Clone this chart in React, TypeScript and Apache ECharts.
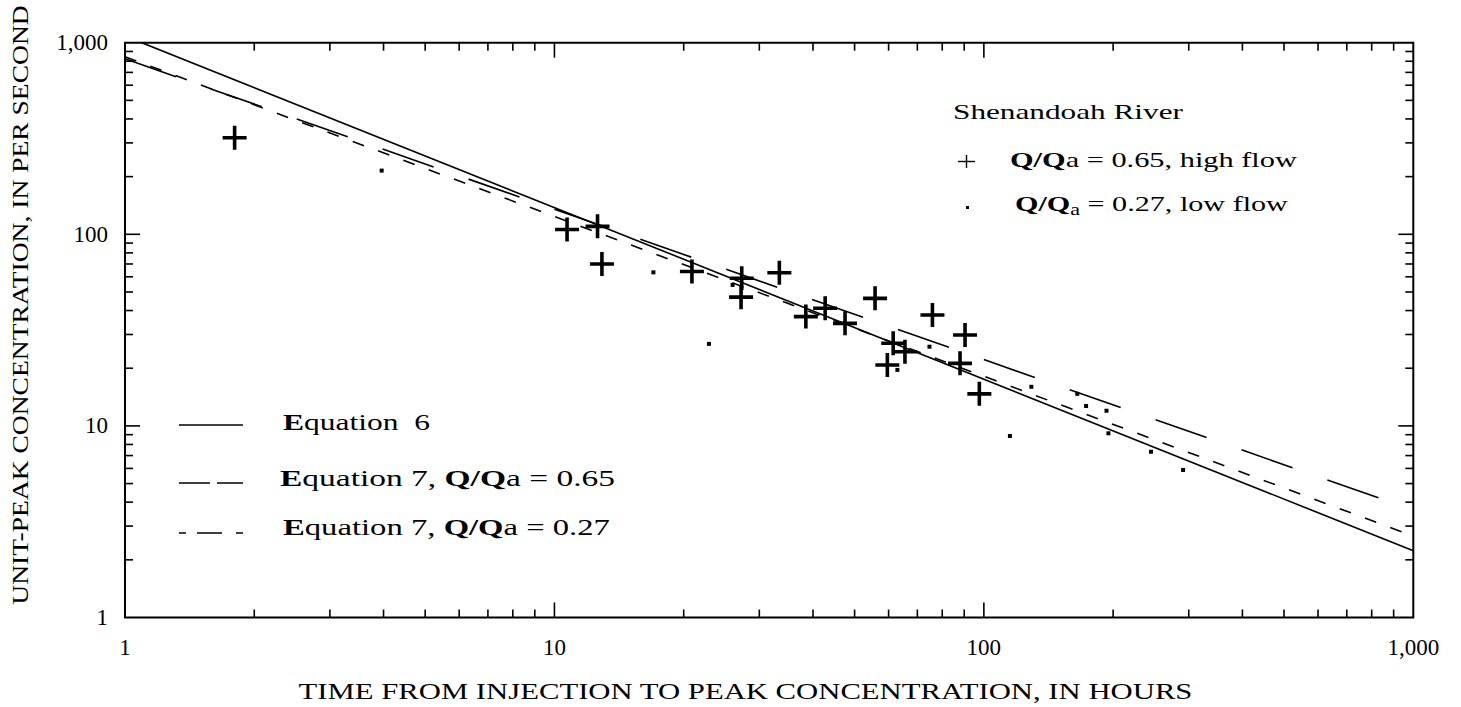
import React, { useEffect, useRef } from 'react';
import * as echarts from 'echarts';

// ---- data ----
const axisTicks = [1, 10, 100, 1000];

const highFlowT = [1.8, 10.7, 12.6, 12.9, 20.9, 27.3, 27.2, 33.4, 38.5, 42.7, 47.5, 55.8, 75.9, 90.4, 61.5, 65.5, 59.6, 88.0, 97.6];
const highFlowC = [319, 106, 110, 70, 64, 59, 47, 63, 37.2, 41.1, 34.3, 46.3, 37.9, 29.8, 27.0, 24.4, 20.8, 21.2, 14.7];

const lowFlowT = [3.96, 17.0, 22.9, 26.0, 74.7, 62.9, 115, 129, 165, 173, 193, 195, 245, 291];
const lowFlowC = [215, 63.3, 26.8, 54.4, 25.9, 19.6, 8.86, 16.0, 14.7, 12.7, 12.0, 9.15, 7.33, 5.89];

const eq6T = [1.094, 1000];
const eq6C = [1000, 2.23];
const eq7HighT = [1, 1000];
const eq7HighC = [824, 3.64];
const eq7LowT = [1, 1000];
const eq7LowC = [845, 2.66];

const FONT = '"Liberation Serif", "Times New Roman", serif';
const PLUS = 'path://M10.2,0H13.8V10.2H24V13.8H13.8V24H10.2V13.8H0V10.2H10.2Z';

const zip = (a: number[], b: number[]) => a.map((v, i) => [v, b[i]]);

type Seg = { t: string; bold?: boolean; size?: number; dy?: number };

export default function App() {
  const ref = useRef<HTMLDivElement>(null);

  useEffect(() => {
    document.body.style.margin = '0';
    const chart = echarts.init(ref.current!, null, { renderer: 'svg' });
    const fmt = (v: number) => {
      const r = Math.round(v);
      return axisTicks.includes(r) ? r.toLocaleString('en-US') : '';
    };

    chart.setOption({
      animation: false,
      backgroundColor: '#fff',
      grid: { left: 125, right: 47.7, top: 42.7, bottom: 89.5, show: true, borderColor: '#000', borderWidth: 2, backgroundColor: 'transparent' },
      xAxis: {
        type: 'log', logBase: 10, min: 1, max: 1000,
        axisLine: { show: false }, axisTick: { show: false }, splitLine: { show: false },
        axisLabel: { formatter: fmt, fontFamily: FONT, fontSize: 23, color: '#000', margin: 18 },
      },
      yAxis: {
        type: 'log', logBase: 10, min: 1, max: 1000,
        axisLine: { show: false }, axisTick: { show: false }, splitLine: { show: false },
        axisLabel: { formatter: fmt, fontFamily: FONT, fontSize: 23, color: '#000', margin: 17 },
      },
      series: [
        { name: 'Equation 6', type: 'line', data: zip(eq6T, eq6C), symbol: 'none', lineStyle: { color: '#000', width: 1.6 }, z: 2 },
        { name: 'Equation 7, Q/Qa = 0.65', type: 'line', data: zip(eq7HighT, eq7HighC), symbol: 'none', lineStyle: { color: '#000', width: 1.6, type: [54, 37] }, z: 2 },
        { name: 'Equation 7, Q/Qa = 0.27', type: 'line', data: zip(eq7LowT, eq7LowC), symbol: 'none', lineStyle: { color: '#000', width: 1.6, type: [12, 15] }, z: 2 },
        { name: 'Q/Qa = 0.65, high flow', type: 'scatter', data: zip(highFlowT, highFlowC), symbol: PLUS, symbolSize: 24, itemStyle: { color: '#000', opacity: 1 }, z: 3 },
        { name: 'Q/Qa = 0.27, low flow', type: 'scatter', data: zip(lowFlowT, lowFlowC), symbol: 'rect', symbolSize: 4, itemStyle: { color: '#000', opacity: 1 }, z: 3 },
      ],
    });

    const canvas = document.createElement('canvas');
    const ctx = canvas.getContext('2d')!;
    const fontStr = (size: number, bold?: boolean) => `${bold ? 'bold ' : ''}${size}px ${FONT}`;
    const measure = (t: string, size: number, bold?: boolean) => {
      ctx.font = fontStr(size, bold);
      return ctx.measureText(t).width;
    };

    const g: any[] = [];
    const P = (x: number, y: number) => chart.convertToPixel({ gridIndex: 0 }, [x, y]) as number[];
    const tick = (x1: number, y1: number, x2: number, y2: number) =>
      g.push({ type: 'line', silent: true, z: 10, shape: { x1, y1, x2, y2 }, style: { stroke: '#000', lineWidth: 1.6 } });

    for (const d of [1, 10, 100]) {
      for (let m = 1; m <= 9; m++) {
        const v = m * d;
        if (v === 1) continue;
        const len = m === 1 ? 15 : 8;
        const [x, yb] = P(v, 1);
        const yt = P(v, 1000)[1];
        tick(x, yb, x, yb - len);
        tick(x, yt, x, yt + len);
        const [xl, y] = P(1, v);
        const xr = P(1000, v)[0];
        tick(xl, y, xl + len, y);
        tick(xr, y, xr - len, y);
      }
    }

    const row = (segs: Seg[], left: number, right: number, cy: number, size: number) => {
      const widths = segs.map((s) => measure(s.t, s.size ?? size, s.bold));
      const scale = (right - left) / widths.reduce((a, b) => a + b, 0);
      let x = left;
      segs.forEach((s, i) => {
        const trimmed = s.t.replace(/^\s+/, '');
        const lead = s.t.length - trimmed.length;
        const leadW = lead ? measure(' '.repeat(lead), s.size ?? size, s.bold) * scale : 0;
        g.push({
          type: 'text', silent: true, z: 10, x: x + leadW, y: cy + (s.dy ?? 0), scaleX: scale,
          style: {
            text: trimmed, fill: '#000', font: fontStr(s.size ?? size, s.bold),
            textAlign: 'left', textVerticalAlign: 'middle',
          },
        });
        x += widths[i] * scale;
      });
    };

    // axis titles
    const xTitle = 'TIME FROM INJECTION TO PEAK CONCENTRATION, IN HOURS';
    g.push({
      type: 'text', silent: true, x: 745.5, y: 691, scaleX: 895 / measure(xTitle, 23),
      style: { text: xTitle, fill: '#000', font: fontStr(23), textAlign: 'center', textVerticalAlign: 'middle' },
    });
    const yTitle = 'UNIT-PEAK CONCENTRATION, IN PER SECOND';
    g.push({
      type: 'text', silent: true, x: 20, y: 305, rotation: Math.PI / 2, scaleX: 600 / measure(yTitle, 23),
      style: { text: yTitle, fill: '#000', font: fontStr(23), textAlign: 'center', textVerticalAlign: 'middle' },
    });

    // top-right legend
    row([{ t: 'Shenandoah River' }], 953, 1183, 112, 22);
    g.push({ type: 'line', silent: true, shape: { x1: 958, y1: 161.5, x2: 975, y2: 161.5 }, style: { stroke: '#000', lineWidth: 1.4 } });
    g.push({ type: 'line', silent: true, shape: { x1: 966.5, y1: 155, x2: 966.5, y2: 168 }, style: { stroke: '#000', lineWidth: 1.4 } });
    row([{ t: 'Q/Q', bold: true }, { t: 'a = 0.65, high flow' }], 1010, 1297, 160, 22);
    g.push({ type: 'rect', silent: true, shape: { x: 966, y: 206, width: 3, height: 3 }, style: { fill: '#000' } });
    row([{ t: 'Q/Q', bold: true }, { t: 'a', size: 16, dy: 7 }, { t: ' = 0.27, low flow' }], 1015, 1288, 203, 22);

    // bottom-left legend
    const lg = (x1: number, x2: number, y: number) =>
      g.push({ type: 'line', silent: true, shape: { x1, y1: y, x2, y2: y }, style: { stroke: '#000', lineWidth: 1.5 } });
    lg(179, 243, 425);
    row([{ t: 'E', bold: true }, { t: 'quation' }, { t: '  6' }], 283, 430, 422, 24);
    lg(179, 210, 483);
    lg(217, 243, 483);
    row([{ t: 'E', bold: true }, { t: 'quation 7, ' }, { t: 'Q/Q', bold: true }, { t: 'a = 0.65' }], 280, 615, 478, 24);
    lg(179, 186, 533);
    lg(197, 222, 533);
    lg(236, 243, 533);
    row([{ t: 'E', bold: true }, { t: 'quation 7, ' }, { t: 'Q/Q', bold: true }, { t: 'a = 0.27' }], 283, 610, 527, 24);

    chart.setOption({ graphic: { elements: g } });

    return () => chart.dispose();
  }, []);

  return <div ref={ref} style={{ width: 1461, height: 707 }} />;
}
